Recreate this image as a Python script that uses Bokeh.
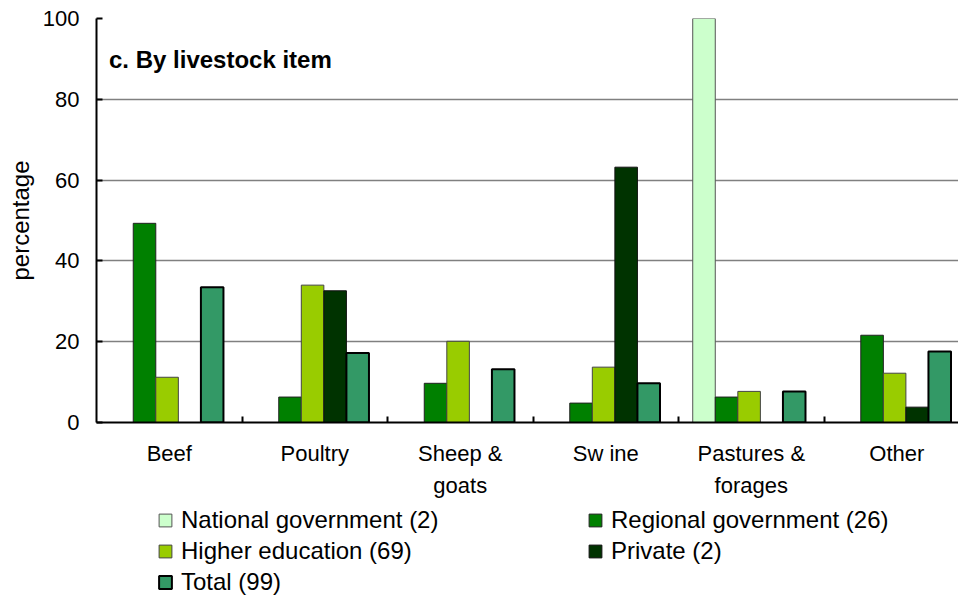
from bokeh.plotting import figure
from bokeh.layouts import column
from bokeh.models import ColumnDataSource, Range1d, FixedTicker, Legend, LegendItem, Label
from bokeh.transform import dodge
from bokeh.embed import file_html
from bokeh.resources import INLINE

categories = ["Beef", "Poultry", "Sheep &\ngoats", "Sw ine", "Pastures &\nforages", "Other"]
national = [0, 0, 0, 0, 100, 0]
regional = [49.3, 6.3, 9.7, 4.8, 6.3, 21.6]
higher = [11.2, 34.0, 20.1, 13.7, 7.7, 12.2]
private = [0, 32.6, 0, 63.2, 0, 3.8]
total = [33.5, 17.2, 13.2, 9.7, 7.7, 17.6]
series_names = ["National government (2)", "Regional government (26)",
                "Higher education (69)", "Private (2)", "Total (99)"]
y_ticks = [0, 20, 40, 60, 80, 100]

colors = ["#CCFFCC", "#008000", "#99CC00", "#003300", "#339966"]
FONT = "Liberation Sans"
keys = ["national", "regional", "higher", "private", "total"]
offsets = [-0.325, -0.17, -0.015, 0.14, 0.295]
line_colors = ["#555555", "#222222", "#444444", "#111111", "black"]
line_widths = [1, 1, 1, 1, 2]

centers = [i + 0.5 for i in range(len(categories))]
bounds = list(range(1, len(categories)))

src = ColumnDataSource(dict(x=centers, national=national, regional=regional,
                            higher=higher, private=private, total=total))

p = figure(width=958, height=505, output_backend="svg", toolbar_location=None,
           x_range=Range1d(0, 5.924), y_range=Range1d(0, 100),
           min_border_left=96, min_border_right=0, min_border_top=18,
           min_border_bottom=83)
p.outline_line_color = None

for k, off, col, lc, lw in zip(keys, offsets, colors, line_colors, line_widths):
    p.vbar(x=dodge("x", off), top=k, width=0.155, bottom=0, source=src,
           fill_color=col, line_color=lc, line_width=lw)

# x axis: labels at category centres, small inward ticks at category boundaries
p.xaxis.ticker = FixedTicker(ticks=centers, minor_ticks=bounds)
p.xaxis.major_label_overrides = {c: lab for c, lab in zip(centers, categories)}
p.xaxis.major_tick_in = 0
p.xaxis.major_tick_out = 0
p.xaxis.minor_tick_in = 6
p.xaxis.minor_tick_out = 0
p.xaxis.minor_tick_line_color = "black"
p.xaxis.minor_tick_line_width = 2
p.xaxis.axis_line_width = 2
p.xaxis.axis_line_color = "black"
p.xaxis.major_label_standoff = 18
p.xaxis.major_label_text_font = FONT
p.xaxis.major_label_text_font_size = "22px"
p.xaxis.major_label_text_color = "black"
p.xaxis.major_label_text_line_height = 1.3

p.yaxis.ticker = FixedTicker(ticks=y_ticks)
p.yaxis.major_tick_in = 6
p.yaxis.major_tick_out = 0
p.yaxis.minor_tick_line_color = None
p.yaxis.major_tick_line_color = "black"
p.yaxis.major_tick_line_width = 2
p.yaxis.axis_line_width = 2
p.yaxis.axis_line_color = "black"
p.yaxis.major_label_standoff = 17
p.yaxis.major_label_text_font = FONT
p.yaxis.major_label_text_font_size = "22px"
p.yaxis.major_label_text_color = "black"
p.yaxis.axis_label = "percentage"
p.yaxis.axis_label_text_font = FONT
p.yaxis.axis_label_text_font_size = "24px"
p.yaxis.axis_label_text_font_style = "normal"
p.yaxis.axis_label_text_color = "black"
p.yaxis.axis_label_standoff = 6

p.xgrid.visible = False
p.ygrid.ticker = FixedTicker(ticks=y_ticks)
p.ygrid.grid_line_color = "#808080"
p.ygrid.grid_line_width = 1.5

p.add_layout(Label(x=0.086, y=89.85, text="c. By livestock item",
                   text_font=FONT, text_font_size="24px", text_font_style="bold",
                   text_color="black", text_baseline="alphabetic"))

# legend strip below the chart
lf = figure(width=958, height=91, output_backend="svg", toolbar_location=None,
            x_range=Range1d(0, 1), y_range=Range1d(0, 1),
            x_axis_location=None, y_axis_location=None, min_border=0)
lf.outline_line_color = None
lf.grid.visible = False
items = []
nan = float("nan")
for col, lc, lw, name in zip(colors, line_colors, line_widths, series_names):
    r = lf.vbar(x=[nan], top=[nan], width=0.1, fill_color=col, line_color=lc, line_width=lw)
    items.append(LegendItem(label=name, renderers=[r]))

legend = Legend(items=items, orientation="horizontal", ncols=2, location=(61, 0),
                label_text_font=FONT, label_text_font_size="24px", label_text_color="black",
                glyph_width=16, glyph_height=16, label_standoff=8, spacing=3,
                padding=0, margin=0, border_line_color=None, background_fill_alpha=0,
                label_height=20, label_width=403)
lf.add_layout(legend, "center")

layout = column(p, lf, spacing=0)
open("out.html", "w").write(file_html(layout, INLINE))
